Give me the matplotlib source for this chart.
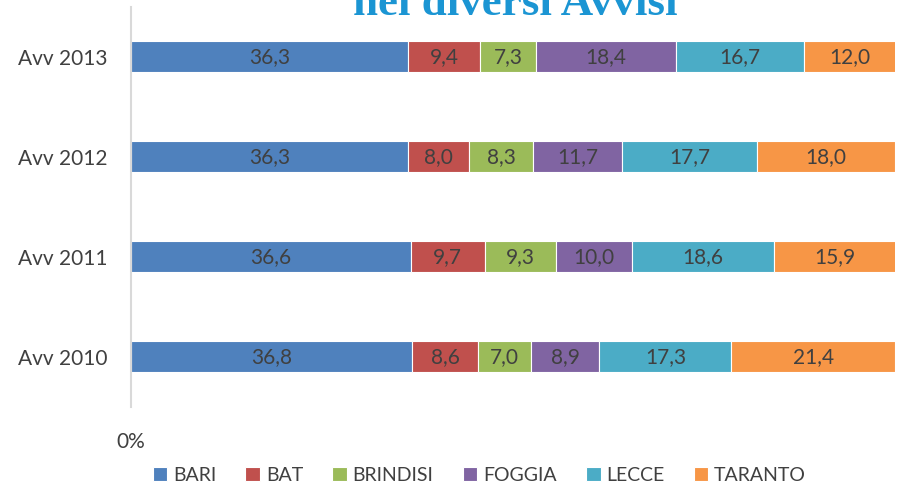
import matplotlib.pyplot as plt
import numpy as np

# Share per province in each call (Avviso), percent
years = ['Avv 2010', 'Avv 2011', 'Avv 2012', 'Avv 2013']
provinces = ['BARI', 'BAT', 'BRINDISI', 'FOGGIA', 'LECCE', 'TARANTO']
bari = [36.8, 36.6, 36.3, 36.3]
bat = [8.6, 9.7, 8.0, 9.4]
brindisi = [7.0, 9.3, 8.3, 7.3]
foggia = [8.9, 10.0, 11.7, 18.4]
lecce = [17.3, 18.6, 17.7, 16.7]
taranto = [21.4, 15.9, 18.0, 12.0]

colors = ['#4F81BD', '#C0504D', '#9BBB59', '#8064A2', '#4BACC6', '#F79646']
plt.rcParams['font.family'] = ['Lato', 'DejaVu Sans']

fig = plt.figure(figsize=(9.01, 4.86), dpi=100)
ax = fig.add_axes([0.1454, 0.1626, 0.8479, 0.823])

series = [bari, bat, brindisi, foggia, lecce, taranto]
y = np.arange(len(years))
left = np.zeros(len(years))
for name, vals, c in zip(provinces, series, colors):
    vals = np.array(vals)
    bars = ax.barh(y, vals, left=left, height=0.31, color=c,
                   edgecolor='white', linewidth=0.8, label=name)
    ax.bar_label(bars, labels=['{:.1f}'.format(v).replace('.', ',') for v in vals],
                 label_type='center', color='#404040', fontsize=15)
    left += vals

ax.set_xlim(0, 100)
ax.set_ylim(-0.5, 3.5)
ax.set_yticks(y)
ax.set_yticklabels(years, fontsize=15, color='#404040')
ax.set_xticks([0])
ax.set_xticklabels(['0%'], fontsize=15, color='#404040')
ax.tick_params(axis='both', length=0)
ax.tick_params(axis='x', pad=18)
ax.tick_params(axis='y', pad=17)
for s in ['top', 'right', 'bottom']:
    ax.spines[s].set_visible(False)
ax.spines['left'].set_color('#D9D9D9')
ax.spines['left'].set_linewidth(1.5)

# title, clipped at the top like in the original
fig.text(0.5716, 0.969, 'nei diversi Avvisi', ha='center', va='baseline',
         fontsize=32.5, fontweight='bold', family='Liberation Serif', color='#1B95D3')

fig.legend(loc='lower center', bbox_to_anchor=(0.532, -0.032), ncol=6,
           frameon=False, fontsize=14, labelcolor='#404040',
           handlelength=0.75, handleheight=0.75, handletextpad=0.3,
           columnspacing=1.5)

fig.savefig('out.png', dpi=100)
